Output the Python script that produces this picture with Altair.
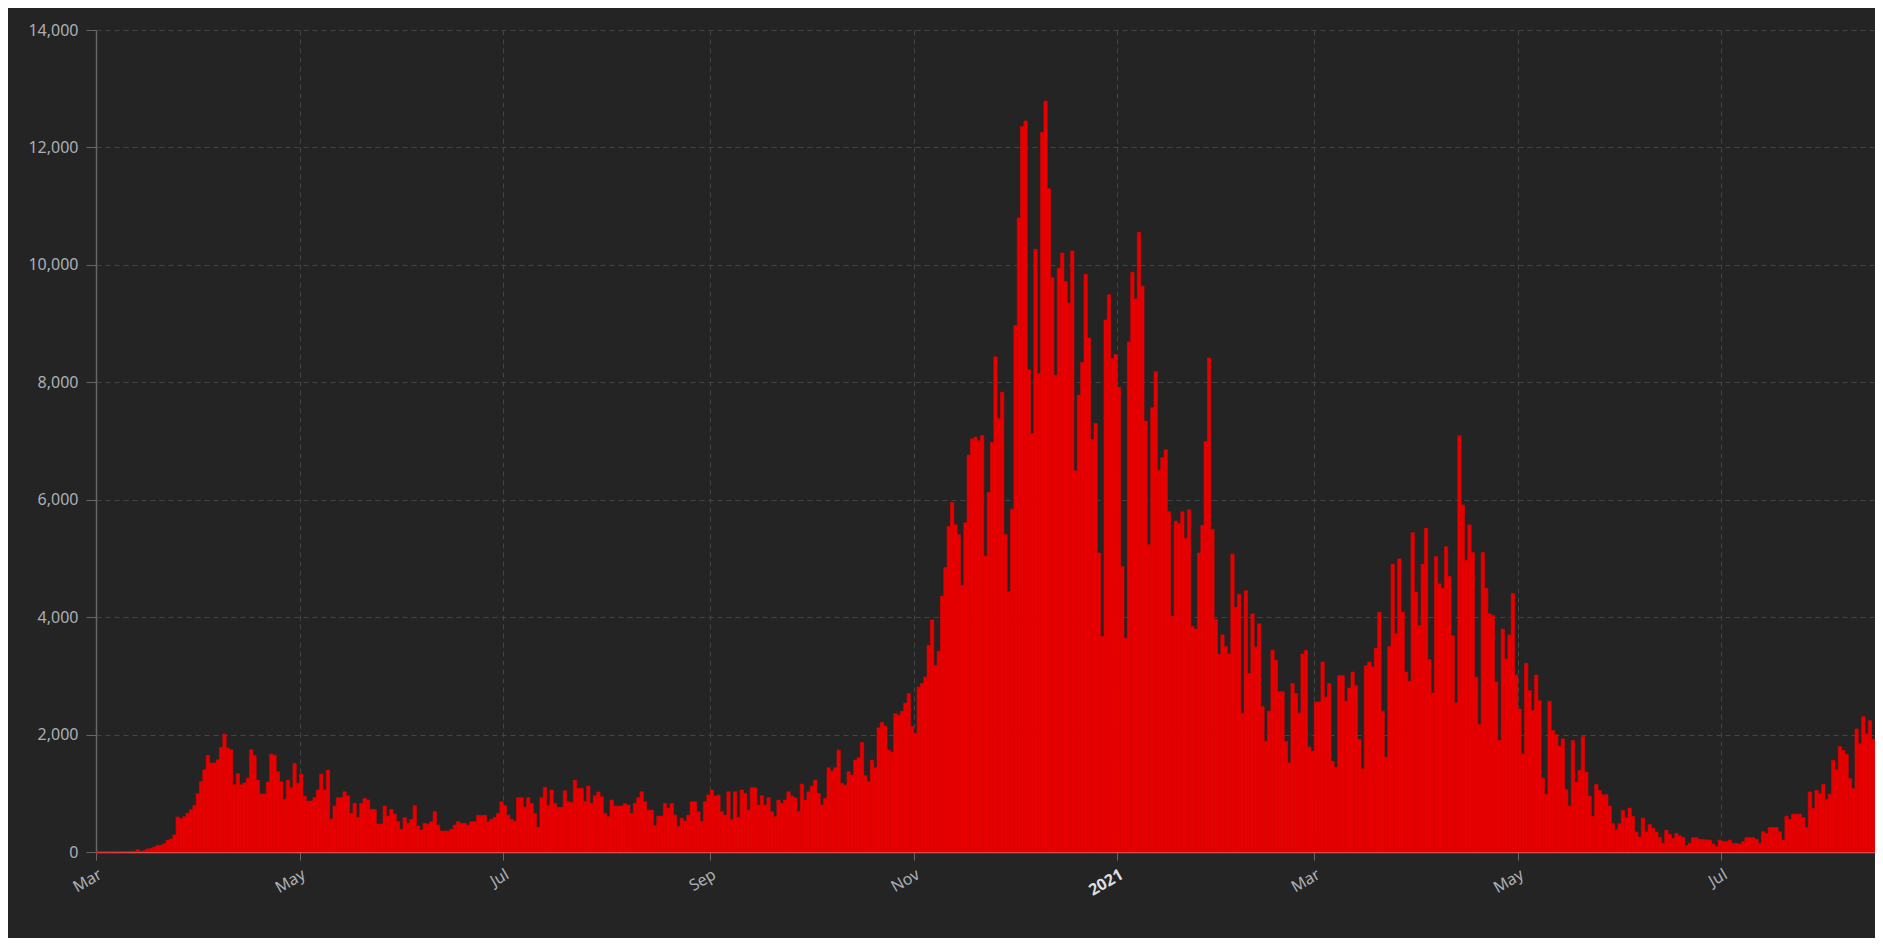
import altair as alt
import pandas as pd

START = "2020-03-01"

mar_2020 = [0, 0, 0, 1, 0, 2, 3, 5, 4, 6, 10, 12, 40, 10, 25, 50, 60, 85, 113, 113, 140, 200, 220, 290,
            595, 567, 600, 658, 720, 794, 992]
apr_2020 = [1202, 1400, 1644, 1514, 1514, 1570, 1780, 2007, 1769, 1741, 1145, 1332, 1145, 1174, 1259,
            1741, 1640, 1225, 987, 987, 1190, 1667, 1650, 1366, 1196, 896, 1225, 1094, 1508, 1168]
may_2020 = [1327, 952, 868, 868, 924, 1055, 1327, 1055, 1395, 561, 782, 924, 924, 1026, 958, 658, 828,
            590, 828, 913, 885, 726, 726, 476, 476, 782, 612, 726, 646, 516, 386]
jun_2020 = [584, 488, 556, 788, 442, 374, 488, 476, 516, 686, 459, 357, 357, 357, 386, 459, 516, 488,
            488, 459, 516, 516, 624, 624, 624, 516, 556, 590, 658, 856]
jul_2020 = [788, 629, 556, 527, 924, 924, 760, 924, 828, 658, 420, 924, 1100, 788, 1055, 828, 760, 760,
            1043, 856, 839, 1225, 1083, 1083, 856, 1123, 828, 958, 1021, 941, 658]
aug_2020 = [601, 885, 782, 782, 782, 822, 800, 658, 828, 924, 1026, 856, 714, 714, 448, 612, 612, 828,
            743, 828, 629, 431, 573, 527, 629, 856, 856, 686, 516, 856, 970]
sep_2020 = [1055, 953, 970, 686, 629, 1026, 550, 1026, 590, 1055, 998, 714, 1094, 1094, 800, 958, 800,
            924, 686, 601, 885, 828, 885, 1026, 953, 924, 686, 1157, 885, 1026]
oct_2020 = [1123, 1225, 998, 800, 913, 1435, 1378, 1435, 1735, 1168, 1140, 1366, 1310, 1565, 1605, 1865,
            1298, 1196, 1565, 1435, 2115, 2206, 2143, 1735, 1700, 2353, 2330, 2396, 2535, 2700, 2140]
nov_2020 = [2019, 2809, 2870, 2979, 3520, 3952, 3174, 3417, 4359, 4846, 5545, 5952, 5575, 5405, 4542,
            5606, 6761, 7035, 7065, 7004, 7095, 5040, 6123, 6974, 8433, 7381, 7831, 5407, 4432, 5839]
dec_2020 = [8967, 10797, 12357, 12450, 8212, 7127, 10263, 8144, 12255, 12789, 11297, 9780, 8119, 9941,
            10204, 9712, 9348, 10238, 6492, 7780, 8339, 9840, 8755, 7026, 7297, 5093, 3670, 9060, 9492,
            8401, 8472]
jan_2021 = [7912, 4861, 3640, 8688, 9873, 9420, 10555, 9636, 7338, 5234, 7568, 8178, 6498, 6713, 6850,
            5794, 4014, 5636, 5593, 5794, 5342, 5830, 3841, 3798, 5091, 5564, 6993, 8415, 5493, 3963, 3367]
feb_2021 = [3698, 3500, 3374, 5071, 4165, 4390, 2365, 4451, 3040, 4055, 3490, 3885, 2475, 1885, 2396,
            3435, 3265, 2730, 2730, 1879, 1520, 2870, 2700, 2365, 3374, 3435, 1788, 1715]
mar_2021 = [2554, 2554, 3235, 2639, 2870, 1544, 1441, 3004, 3003, 2567, 2793, 3065, 2833, 1915, 1417,
            3173, 3235, 3150, 3473, 4085, 2397, 1615, 3502, 4901, 3717, 4992, 4085, 3065, 2907, 5439, 4425]
apr_2021 = [3853, 4901, 5513, 3275, 2708, 5031, 4567, 4493, 5201, 4691, 3683, 2538, 7088, 5910, 4963,
            5570, 5099, 2975, 2170, 5099, 4493, 4057, 4028, 2895, 1898, 3796, 3286, 3694, 4402, 3014]
may_2021 = [2436, 1671, 3213, 2748, 2408, 3014, 2578, 1258, 980, 2567, 2068, 2000, 1802, 1926, 1060, 782,
            1898, 1190, 1388, 1966, 1360, 952, 606, 1150, 1048, 975, 975, 782, 482, 380, 482]
jun_2021 = [708, 584, 748, 606, 340, 255, 578, 340, 470, 408, 340, 250, 147, 373, 300, 232, 317, 277,
            249, 107, 150, 243, 243, 215, 215, 203, 203, 136, 90, 203]
jul_2021 = [175, 175, 203, 147, 147, 136, 175, 243, 243, 243, 215, 147, 345, 316, 418, 418, 418, 345,
            203, 610, 554, 644, 644, 644, 588, 413, 1023, 740, 1051, 995, 1153]
aug_2021 = [893, 983, 1560, 1402, 1797, 1729, 1662, 1249, 1079, 2096, 1842, 2305, 2010, 2237, 1921]

y_ticks = [0, 2000, 4000, 6000, 8000, 10000, 12000, 14000]

cases = (mar_2020 + apr_2020 + may_2020 + jun_2020 + jul_2020 + aug_2020 + sep_2020 + oct_2020
         + nov_2020 + dec_2020 + jan_2021 + feb_2021 + mar_2021 + apr_2021 + may_2021 + jun_2021
         + jul_2021 + aug_2021)

dates = pd.date_range(START, periods=len(cases), freq="D")
df = pd.DataFrame({
    "date": dates.strftime("%Y-%m-%d"),
    "end": (dates + pd.Timedelta(days=1)).strftime("%Y-%m-%d"),
    "cases": cases,
})

t0 = int(pd.Timestamp(START, tz="UTC").value // 10**6)
t1 = int((pd.Timestamp(dates[-1], tz="UTC") + pd.Timedelta(days=1)).value // 10**6)

FONT = "Noto Sans"
LABEL = "#aab0b6"
BG = "#242424"
RED = "#e60000"

chart = alt.Chart(df).mark_bar(color=RED, stroke=RED, strokeWidth=0.6).encode(
    x=alt.X("date:T",
            scale=alt.Scale(type="utc", domain=[t0, t1], nice=False),
            axis=alt.Axis(
                title=None,
                tickCount=alt.TimeIntervalStep(interval="month", step=2),
                labelExpr="utcFormat(datum.value, utcmonth(datum.value) == 0 ? '%Y' : '%b')",
                labelFontWeight={"condition": {"test": "utcmonth(datum.value) == 0", "value": "bold"},
                                 "value": "normal"},
                labelColor={"condition": {"test": "utcmonth(datum.value) == 0", "value": "#dddddd"},
                            "value": LABEL},
                labelAngle=-30, labelAlign="right", labelBaseline="top",
                labelPadding=6, tickSize=8, tickColor="#666666",
                domainColor="#d86a6a", domainWidth=1.5,
                grid=True, gridColor="#444444", gridDash=[5, 4], gridWidth=1,
            )),
    x2="end:T",
    y=alt.Y("cases:Q",
            scale=alt.Scale(domain=[0, 14000], nice=False, zero=True),
            axis=alt.Axis(
                title=None, values=y_ticks,
                labelExpr="format(datum.value, ',')",
                labelColor=LABEL, labelPadding=8, tickSize=10, tickColor="#666666",
                domainColor="#666666", domainWidth=1.5,
                grid=True, gridColor="#444444", gridDash=[5, 4], gridWidth=1,
            )),
    y2=alt.datum(0),
).properties(
    width=1779,
    height=822,
    background=BG,
    padding={"left": 88, "top": 22, "right": 0, "bottom": 86},
    autosize=alt.AutoSizeParams(type="none"),
).configure_view(
    stroke=None,
).configure_axis(
    labelFont=FONT, labelFontSize=16,
)

chart.save("out.html", embed_options={"renderer": "svg", "actions": False})
